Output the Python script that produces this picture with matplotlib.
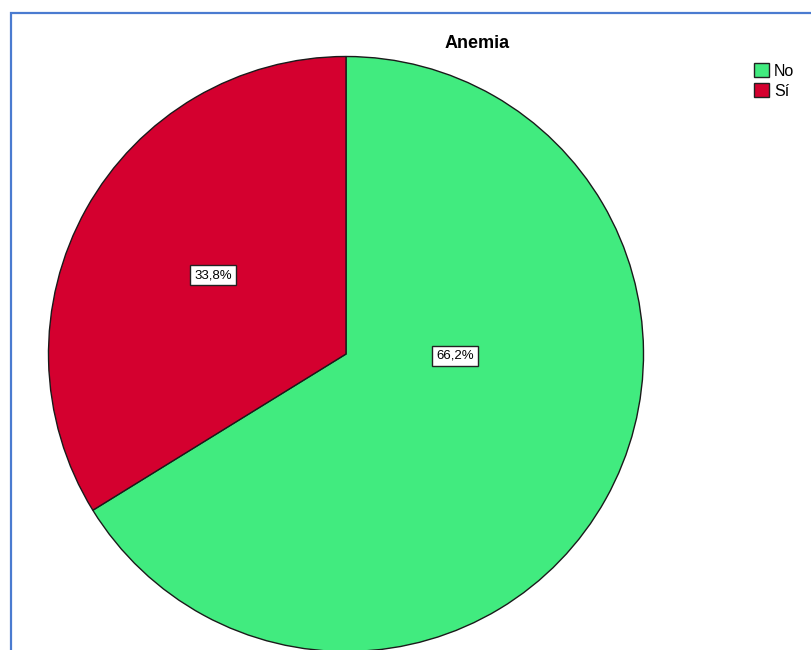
import matplotlib
matplotlib.use("Agg")
import matplotlib.pyplot as plt
from matplotlib.patches import Rectangle, Patch

plt.rcParams['font.family'] = ['Liberation Sans', 'DejaVu Sans']

title = "Anemia"
categories = ["No", "Sí"]
values = [66.2, 33.8]
colors = ["#41EB7F", "#D4002F"]

W, H = 811, 650
fig = plt.figure(figsize=(W / 100, H / 100), dpi=100)
ax = fig.add_axes([0, 0, 1, 1])

cx, cy, r = 346, H - 354, 297.5
wedges, _ = ax.pie(values, colors=colors, startangle=90, counterclock=False,
                   center=(cx, cy), radius=r, frame=True,
                   wedgeprops=dict(edgecolor="#1a1a1a", linewidth=1.0))
ax.set_xlim(0, W)
ax.set_ylim(0, H)
ax.set_aspect('equal')
ax.axis('off')

# label positions (pixels, as in reference)
label_pos = [(455, 356), (213, 275)]
for v, (lx, ly) in zip(values, label_pos):
    ax.text(lx, H - ly, f"{v:.1f}%".replace('.', ','), ha='center', va='center',
            fontsize=9.5, color='black',
            bbox=dict(boxstyle='square,pad=0.3', facecolor='white', edgecolor='#222222', linewidth=1))

fig.text(477 / W, 1 - 43 / H, title, ha='center', va='center', fontsize=13, fontweight='bold')

handles = [Patch(facecolor=c, edgecolor='#222222', linewidth=1) for c in colors]
fig.legend(handles, categories, loc='upper left', bbox_to_anchor=(751 / W, 1 - 60 / H),
           frameon=False, fontsize=11.5, handlelength=0.95, handleheight=0.95,
           handletextpad=0.3, labelspacing=0.3, borderpad=0.2, borderaxespad=0)

# blue frame
fig.patches.append(Rectangle((10.5 / W, -0.1), 2.0, (H - 12.5) / H + 0.1,
                             transform=fig.transFigure, fill=False,
                             edgecolor='#4A7BD0', linewidth=1.6))

fig.savefig("out.png", dpi=100)
